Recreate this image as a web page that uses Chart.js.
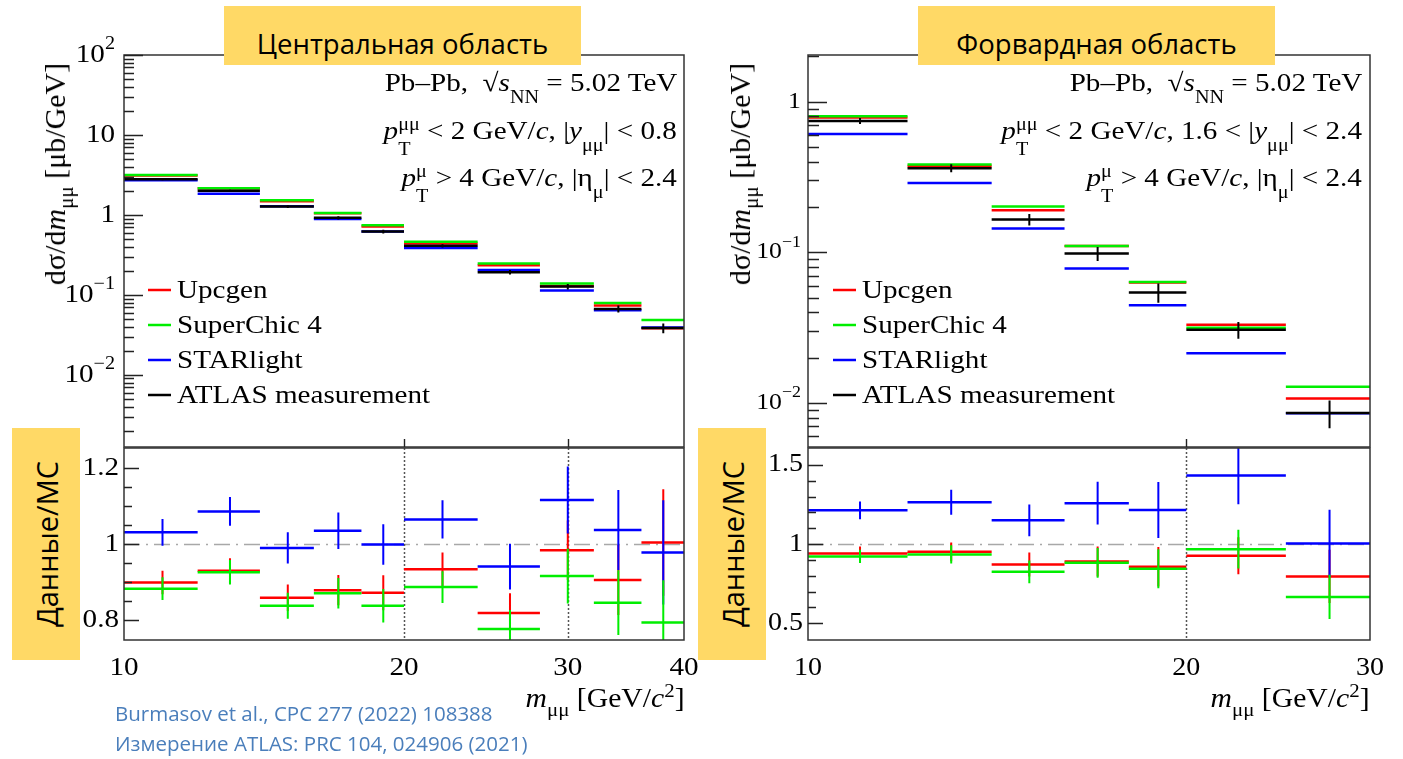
<!DOCTYPE html>
<html lang="ru">
<head>
<meta charset="utf-8">
<title>Дифференциальные сечения γγ → μμ, Pb–Pb 5.02 TeV</title>
<script src="https://cdn.jsdelivr.net/npm/chart.js@4.4.1/dist/chart.umd.min.js"></script>
<style>
  html, body { margin: 0; padding: 0; background: #fff; }
  #page { position: relative; width: 1403px; height: 759px; overflow: hidden; }
  canvas { position: absolute; }
  .tbox { position: absolute; top: 6px; height: 59px; background: #ffd966; }
  .tbox span { position: absolute; left: 0; right: 0; top: 24px; text-align: center;
               font: 27.5px "Open Sans", sans-serif; line-height: 1; color: #000; white-space: nowrap; }
  .rbox { position: absolute; top: 428px; height: 232px; background: #ffd966; }
  .rbox span { position: absolute; left: 50%; top: 50%; transform: translate(-50%, -50%) rotate(-90deg);
               font: 29px "Open Sans", sans-serif; line-height: 1; white-space: nowrap; color: #000; }
  .ann { position: absolute; font: 26px "Liberation Serif", serif; line-height: 26px; white-space: nowrap;
         transform: scaleX(1.12); transform-origin: right center; color: #000; }
  .ann sub { font-size: 18px; vertical-align: -12px; line-height: 0; }
  .st { display: inline-block; vertical-align: -16px; font-size: 18px; line-height: 25px;
        margin: -40px 0; text-align: left; }
  .st span { display: block; }
  .ytitle { position: absolute; font: 30px "Liberation Serif", serif; white-space: nowrap; line-height: 1;
            transform: translate(-50%, -50%) rotate(-90deg); color: #000; }
  .ytitle sub { font-size: 21px; vertical-align: -8px; line-height: 0; }
  .xtitle { position: absolute; font: 27px "Liberation Serif", serif; white-space: nowrap; line-height: 27px;
            transform: scaleX(1.1); transform-origin: right center; color: #000; }
  .xtitle sub { font-size: 19px; vertical-align: -9px; line-height: 0; }
  .xtitle sup { font-size: 19px; vertical-align: 10px; line-height: 0; }
  .cite { position: absolute; left: 115px; font: 20.5px "Open Sans", sans-serif; line-height: 1;
          color: #4a7ebb; white-space: nowrap; }
</style>
</head>
<body>
<div id="page">
  <canvas id="topC" width="700" height="448" style="left:0;top:0"></canvas>
  <canvas id="ratC" width="700" height="253" style="left:0;top:447px"></canvas>
  <canvas id="topF" width="703" height="448" style="left:700px;top:0"></canvas>
  <canvas id="ratF" width="703" height="253" style="left:700px;top:447px"></canvas>

  <div class="tbox" style="left:224px;width:357px"><span>Центральная область</span></div>
  <div class="tbox" style="left:918px;width:357px"><span>Форвардная область</span></div>

  <div class="ann" style="right:726px;top:70px">Pb–Pb,&nbsp; √<i>s</i><sub>NN</sub> = 5.02 TeV</div>
  <div class="ann" style="right:726px;top:118px"><i>p</i><span class="st"><span>μμ</span><span>T</span></span> &lt; 2 GeV/<i>c</i>, |<i>y</i><sub>μμ</sub>| &lt; 0.8</div>
  <div class="ann" style="right:726px;top:165px"><i>p</i><span class="st"><span>μ</span><span>T</span></span> &gt; 4 GeV/<i>c</i>, |η<sub>μ</sub>| &lt; 2.4</div>

  <div class="ann" style="right:41px;top:70px">Pb–Pb,&nbsp; √<i>s</i><sub>NN</sub> = 5.02 TeV</div>
  <div class="ann" style="right:41px;top:118px"><i>p</i><span class="st"><span>μμ</span><span>T</span></span> &lt; 2 GeV/<i>c</i>, 1.6 &lt; |<i>y</i><sub>μμ</sub>| &lt; 2.4</div>
  <div class="ann" style="right:41px;top:165px"><i>p</i><span class="st"><span>μ</span><span>T</span></span> &gt; 4 GeV/<i>c</i>, |η<sub>μ</sub>| &lt; 2.4</div>

  <div class="ytitle" style="left:55px;top:174px">dσ/d<i>m</i><sub>μμ</sub> [μb/GeV]</div>
  <div class="ytitle" style="left:740px;top:174px">dσ/d<i>m</i><sub>μμ</sub> [μb/GeV]</div>

  <div class="rbox" style="left:12px;width:68px"><span>Данные/MC</span></div>
  <div class="rbox" style="left:698px;width:68px"><span>Данные/MC</span></div>

  <div class="xtitle" style="right:718px;top:685px"><i>m</i><sub>μμ</sub> [GeV/<i>c</i><sup>2</sup>]</div>
  <div class="xtitle" style="right:33px;top:685px"><i>m</i><sub>μμ</sub> [GeV/<i>c</i><sup>2</sup>]</div>

  <div class="cite" style="top:703px">Burmasov et al., CPC 277 (2022) 108388</div>
  <div class="cite" style="top:733px">Измерение ATLAS: PRC 104, 024906 (2021)</div>
</div>

<script>
// dimuon invariant mass bins, GeV/c^2
const massEdgesCentral = [10, 12, 14, 16, 18, 20, 24, 28, 32, 36, 40];
const massEdgesForward = [10, 12, 14, 16, 18, 20, 24, 28];

// dσ/dm [μb/GeV], |y_μμ| < 0.8
const atlasCentral      = [2.8, 2.0, 1.27, 0.92, 0.62, 0.41, 0.192, 0.127, 0.0667, 0.0384];
const atlasErrCentral   = [0.095, 0.07, 0.052, 0.042, 0.033, 0.019, 0.012, 0.010, 0.0067, 0.0054];
const upcgenCentral     = [3.11, 2.15, 1.48, 1.05, 0.715, 0.44, 0.234, 0.129, 0.0737, 0.0382];
const superchicCentral  = [3.16, 2.16, 1.52, 1.06, 0.742, 0.463, 0.246, 0.139, 0.079, 0.0483];
const starlightCentral  = [2.72, 1.84, 1.28, 0.89, 0.62, 0.385, 0.204, 0.113, 0.0644, 0.039];

// data / MC, central
const ratioUpcgenCentral     = [0.899, 0.930, 0.859, 0.879, 0.872, 0.934, 0.819, 0.984, 0.906, 1.004];
const ratioSuperchicCentral  = [0.883, 0.926, 0.838, 0.871, 0.838, 0.887, 0.777, 0.916, 0.846, 0.794];
const ratioStarlightCentral  = [1.031, 1.086, 0.990, 1.035, 0.999, 1.065, 0.941, 1.116, 1.037, 0.978];
const errUpcgenCentral       = [0.031, 0.033, 0.035, 0.040, 0.046, 0.044, 0.052, 0.078, 0.092, 0.14];
const errSuperchicCentral    = [0.030, 0.032, 0.034, 0.040, 0.044, 0.042, 0.050, 0.072, 0.085, 0.111];
const errStarlightCentral    = [0.035, 0.038, 0.041, 0.048, 0.053, 0.050, 0.060, 0.088, 0.105, 0.137];

// dσ/dm [μb/GeV], 1.6 < |y_μμ| < 2.4
const atlasForward      = [0.745, 0.362, 0.165, 0.098, 0.0541, 0.0306, 0.00858];
const atlasErrForward   = [0.034, 0.0226, 0.0144, 0.0105, 0.0079, 0.0039, 0.0018];
const upcgenForward     = [0.785, 0.374, 0.190, 0.110, 0.0630, 0.0331, 0.0107];
const superchicForward  = [0.799, 0.383, 0.201, 0.110, 0.0636, 0.0316, 0.0128];
const starlightForward  = [0.611, 0.288, 0.144, 0.0782, 0.0445, 0.0214, 0.00855];

// data / MC, forward
const ratioUpcgenForward     = [0.941, 0.951, 0.871, 0.890, 0.857, 0.926, 0.796];
const ratioSuperchicForward  = [0.922, 0.935, 0.825, 0.882, 0.844, 0.968, 0.667];
const ratioStarlightForward  = [1.213, 1.264, 1.150, 1.258, 1.215, 1.432, 1.004];
const errUpcgenForward       = [0.043, 0.059, 0.076, 0.095, 0.125, 0.117, 0.168];
const errSuperchicForward    = [0.042, 0.058, 0.072, 0.094, 0.123, 0.122, 0.14];
const errStarlightForward    = [0.056, 0.079, 0.10, 0.135, 0.177, 0.18, 0.212];

// axis ticks and labels
const decadeTicks = [0.01, 0.1, 1, 10, 100];
const ratioTicksCentral = [0.8, 1, 1.2];
const ratioMinorCentral = [0.85, 0.9, 0.95, 1.05, 1.1, 1.15];
const ratioTicksForward = [0.5, 1, 1.5];
const ratioMinorForward = [0.6, 0.7, 0.8, 0.9, 1.1, 1.2, 1.3, 1.4];
const massTicksCentral = [10, 20, 30, 40];
const massLabelsCentral = ['10', '20', '30', '40'];
const massTicksForward = [10, 20, 28];
const massLabelsForward = ['10', '20', '30'];

const SERIF = '"Liberation Serif", serif';
const SX = 1.12;   // horizontal stretch of the ROOT-style text
const RED = '#ff0000', GREEN = '#00ee00', BLUE = '#0000ff', BLACK = '#000000';

// histogram steps: one flat segment per bin, broken by null points
function stepPoints(edges, vals) {
  const pts = [];
  vals.forEach((v, i) => {
    pts.push({x: edges[i], y: v}, {x: edges[i + 1], y: v}, {x: edges[i + 1], y: null});
  });
  return pts;
}

// vertical error bars at the bin centres
function errPoints(edges, vals, errs) {
  const pts = [];
  vals.forEach((v, i) => {
    const c = (edges[i] + edges[i + 1]) / 2;
    pts.push({x: c, y: v - errs[i]}, {x: c, y: v + errs[i]}, {x: c, y: null});
  });
  return pts;
}

function lineSet(label, color, pts, width, order, legendRow) {
  const ds = {
    label: label, data: pts, borderColor: color, backgroundColor: color,
    borderWidth: width, pointRadius: 0, pointHoverRadius: 0, fill: false,
    tension: 0, spanGaps: false, order: order
  };
  if (legendRow !== undefined) ds.legendRow = legendRow;
  return ds;
}

function stretchedText(ctx, text, x, y, size) {
  ctx.save();
  ctx.font = size + 'px ' + SERIF;
  ctx.translate(x, y);
  ctx.scale(SX, 1);
  ctx.fillText(text, 0, 0);
  ctx.restore();
}

function textWidth(ctx, text, size) {
  ctx.font = size + 'px ' + SERIF;
  return ctx.measureText(text).width * SX;
}

// "10" with a raised exponent, right-aligned at xr
function powLabel(ctx, v, xr, y, size) {
  const e = Math.round(Math.log10(v));
  let base = '10', sup = '';
  if (e === 0) base = '1';
  else if (e !== 1) sup = (e < 0 ? '\u2212' : '') + Math.abs(e);
  const sSize = Math.round(size * 0.68);
  const wb = textWidth(ctx, base, size);
  const ws = sup ? textWidth(ctx, sup, sSize) : 0;
  const x0 = xr - wb - ws;
  ctx.textBaseline = 'middle';
  ctx.textAlign = 'left';
  stretchedText(ctx, base, x0, y, size);
  if (sup) stretchedText(ctx, sup, x0 + wb, y - size * 0.42, sSize);
}

// ROOT-like pad: frame, inward ticks, labels, legend, reference lines
function rootPad(cfg) {
  return {
    id: 'rootPad',
    beforeDatasetsDraw(chart) {
      const {ctx, chartArea: a, scales: {x, y}} = chart;
      ctx.save();
      if (cfg.unity) {
        ctx.strokeStyle = '#a8a8a8';
        ctx.lineWidth = 1.5;
        ctx.setLineDash([16, 6, 2, 6]);
        const py = Math.round(y.getPixelForValue(1)) + 0.5;
        ctx.beginPath(); ctx.moveTo(a.left, py); ctx.lineTo(a.right, py); ctx.stroke();
      }
      (cfg.dotted || []).forEach(v => {
        const px = Math.round(x.getPixelForValue(v)) + 0.5;
        ctx.strokeStyle = '#555';
        ctx.lineWidth = 1.5;
        ctx.setLineDash([2, 2]);
        ctx.beginPath(); ctx.moveTo(px, a.top - 4); ctx.lineTo(px, a.bottom); ctx.stroke();
      });
      ctx.restore();
    },
    afterDatasetsDraw(chart) {
      const {ctx, chartArea: a, scales: {x, y}} = chart;
      ctx.save();
      ctx.setLineDash([]);
      ctx.strokeStyle = '#333';
      ctx.lineWidth = 1.5;
      ctx.strokeRect(a.left, a.top, a.right - a.left, a.bottom - a.top);

      // y ticks
      let minor = cfg.yMinor || [];
      if (cfg.logY) {
        minor = [];
        const k0 = Math.floor(Math.log10(y.min)), k1 = Math.ceil(Math.log10(y.max));
        for (let k = k0; k <= k1; k++) {
          for (let m = 2; m <= 9; m++) {
            const v = m * Math.pow(10, k);
            if (v > y.min && v < y.max) minor.push(v);
          }
        }
      }
      ctx.strokeStyle = '#222';
      ctx.lineWidth = 1.4;
      ctx.beginPath();
      cfg.yMajor.forEach(v => {
        if (v < y.min || v > y.max) return;
        const py = Math.round(y.getPixelForValue(v)) + 0.5;
        ctx.moveTo(a.left, py); ctx.lineTo(a.left + cfg.majorLen, py);
      });
      minor.forEach(v => {
        const py = Math.round(y.getPixelForValue(v)) + 0.5;
        ctx.moveTo(a.left, py); ctx.lineTo(a.left + cfg.minorLen, py);
      });
      (cfg.xTicks || []).forEach(v => {
        const px = Math.round(x.getPixelForValue(v)) + 0.5;
        ctx.moveTo(px, a.bottom); ctx.lineTo(px, a.bottom - 8);
      });
      ctx.stroke();

      // y labels
      ctx.fillStyle = '#000';
      cfg.yMajor.forEach(v => {
        if (v < y.min || v > y.max) return;
        const py = y.getPixelForValue(v);
        if (cfg.logY) {
          powLabel(ctx, v, a.left - cfg.labelGap, py, cfg.labelSize);
        } else {
          const t = String(v);
          const w = textWidth(ctx, t, cfg.labelSize);
          ctx.textBaseline = 'middle';
          ctx.textAlign = 'left';
          stretchedText(ctx, t, a.left - cfg.labelGap - w, py, cfg.labelSize);
        }
      });

      // x labels
      if (cfg.xLabels) {
        cfg.xLabels.forEach((t, i) => {
          const px = x.getPixelForValue(cfg.xLabelAt[i]);
          const w = textWidth(ctx, t, cfg.labelSize);
          ctx.textBaseline = 'middle';
          ctx.textAlign = 'left';
          stretchedText(ctx, t, px - w / 2, a.bottom + 28, cfg.labelSize);
        });
      }

      // legend
      if (cfg.legend) {
        const L = cfg.legend;
        chart.data.datasets
          .filter(d => d.legendRow !== undefined)
          .sort((p, q) => p.legendRow - q.legendRow)
          .forEach(d => {
            const ly = L.y0 + d.legendRow * L.step;
            const lx = a.left + L.dx;
            ctx.strokeStyle = d.borderColor;
            ctx.lineWidth = 2.5;
            ctx.beginPath(); ctx.moveTo(lx, ly); ctx.lineTo(lx + L.len, ly); ctx.stroke();
            ctx.fillStyle = '#000';
            ctx.textBaseline = 'alphabetic';
            ctx.textAlign = 'left';
            stretchedText(ctx, d.label, lx + L.len + L.gap, ly + 8, L.size);
          });
      }
      ctx.restore();
    }
  };
}

function makeChart(id, datasets, xRange, yRange, yType, pad, cfg) {
  return new Chart(document.getElementById(id), {
    type: 'line',
    data: { datasets: datasets },
    options: {
      responsive: false,
      animation: false,
      devicePixelRatio: 1,
      events: [],
      layout: { padding: pad },
      plugins: { legend: { display: false }, tooltip: { enabled: false } },
      scales: {
        x: { type: 'logarithmic', min: xRange[0], max: xRange[1], display: false },
        y: { type: yType, min: yRange[0], max: yRange[1], display: false }
      }
    },
    plugins: [rootPad(cfg)]
  });
}

function spectrumSets(edges, atlas, atlasErr, upc, sc, sl) {
  return [
    lineSet('ATLAS measurement', BLACK, stepPoints(edges, atlas), 2.5, 0, 3),
    lineSet('ATLAS errors', BLACK, errPoints(edges, atlas, atlasErr), 2, 0),
    lineSet('STARlight', BLUE, stepPoints(edges, sl), 2.5, 1, 2),
    lineSet('SuperChic 4', GREEN, stepPoints(edges, sc), 2.5, 2, 1),
    lineSet('Upcgen', RED, stepPoints(edges, upc), 2.5, 3, 0)
  ];
}

function ratioSets(edges, rU, eU, rS, eS, rL, eL) {
  return [
    lineSet('SuperChic 4', GREEN, stepPoints(edges, rS), 2.5, 0),
    lineSet('SuperChic 4 err', GREEN, errPoints(edges, rS, eS), 2, 0),
    lineSet('STARlight', BLUE, stepPoints(edges, rL), 2.5, 1),
    lineSet('STARlight err', BLUE, errPoints(edges, rL, eL), 2, 1),
    lineSet('Upcgen', RED, stepPoints(edges, rU), 2.5, 2),
    lineSet('Upcgen err', RED, errPoints(edges, rU, eU), 2, 2)
  ];
}

const legendCfg = { dx: 24, y0: 290, step: 35, len: 23, gap: 6, size: 26 };

// central rapidity
makeChart('topC',
  spectrumSets(massEdgesCentral, atlasCentral, atlasErrCentral, upcgenCentral, superchicCentral, starlightCentral),
  [10, 40], [0.00125, 100], 'logarithmic',
  { left: 124, right: 16, top: 55, bottom: 1 },
  { logY: true, yMajor: decadeTicks, majorLen: 19, minorLen: 10, labelGap: 9, labelSize: 26,
    xTicks: [20, 30], legend: legendCfg });

makeChart('ratC',
  ratioSets(massEdgesCentral, ratioUpcgenCentral, errUpcgenCentral, ratioSuperchicCentral, errSuperchicCentral,
            ratioStarlightCentral, errStarlightCentral),
  [10, 40], [0.748, 1.2526], 'linear',
  { left: 124, right: 16, top: 1, bottom: 60 },
  { yMajor: ratioTicksCentral, yMinor: ratioMinorCentral, majorLen: 15, minorLen: 8, labelGap: 5, labelSize: 26,
    unity: true, dotted: [20, 30], xLabels: massLabelsCentral, xLabelAt: massTicksCentral });

// forward rapidity
makeChart('topF',
  spectrumSets(massEdgesForward, atlasForward, atlasErrForward, upcgenForward, superchicForward, starlightForward),
  [10, 28], [0.0051, 2.04], 'logarithmic',
  { left: 108, right: 33, top: 55, bottom: 1 },
  { logY: true, yMajor: decadeTicks, majorLen: 19, minorLen: 11, labelGap: 7, labelSize: 23,
    xTicks: [20], legend: Object.assign({}, legendCfg, { dx: 25 }) });

makeChart('ratF',
  ratioSets(massEdgesForward, ratioUpcgenForward, errUpcgenForward, ratioSuperchicForward, errSuperchicForward,
            ratioStarlightForward, errStarlightForward),
  [10, 28], [0.395, 1.606], 'linear',
  { left: 108, right: 33, top: 1, bottom: 60 },
  { yMajor: ratioTicksForward, yMinor: ratioMinorForward, majorLen: 15, minorLen: 8, labelGap: 5, labelSize: 25,
    unity: true, dotted: [20], xLabels: massLabelsForward, xLabelAt: massTicksForward });
</script>
</body>
</html>
